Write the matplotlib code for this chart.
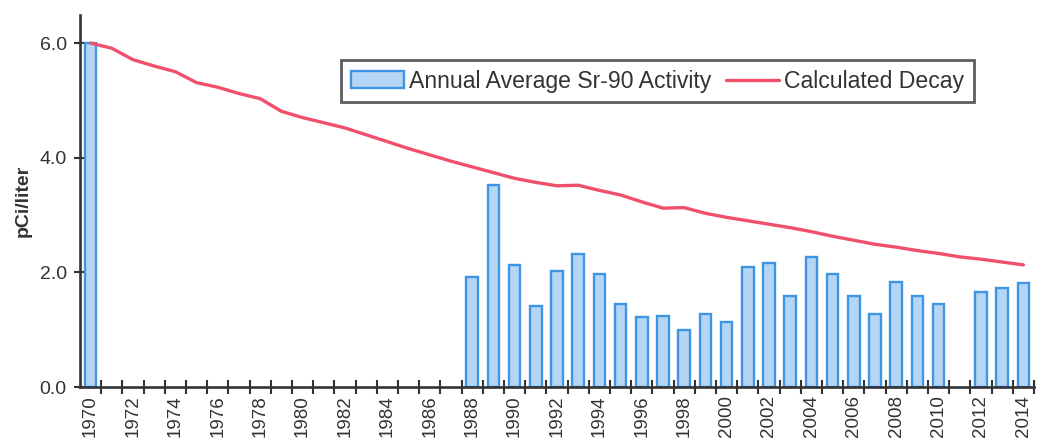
import numpy as np
import matplotlib
matplotlib.use("Agg")
import matplotlib.pyplot as plt
from matplotlib.ticker import FixedLocator, FormatStrFormatter

years = list(range(1970, 2015))

sr90_activity = [6.0] + [np.nan] * 17 + [
    1.92, 3.52, 2.12, 1.42, 2.02, 2.32, 1.97, 1.45, 1.22, 1.24, 0.99, 1.27, 1.13,
    2.09, 2.16, 1.58, 2.26, 1.98, 1.59, 1.27, 1.83, 1.58, 1.45, np.nan, 1.65, 1.73, 1.82]

calculated_decay = [
    6.00, 5.91, 5.71, 5.60, 5.50, 5.31, 5.23, 5.12, 5.03, 4.81,
    4.70, 4.61, 4.52, 4.40, 4.28, 4.16, 4.05, 3.94, 3.84, 3.74,
    3.64, 3.57, 3.51, 3.52, 3.43, 3.35, 3.23, 3.12, 3.13, 3.03,
    2.96, 2.90, 2.84, 2.78, 2.71, 2.63, 2.56, 2.49, 2.44, 2.38,
    2.33, 2.27, 2.23, 2.18, 2.13]

y_ticks = [0.0, 2.0, 4.0, 6.0]
x_tick_labels = [str(y) for y in years[::2]]

label_bar = "Annual Average Sr-90 Activity"
label_line = "Calculated Decay"
y_label = "pCi/liter"

regular = ["Liberation Sans", "DejaVu Sans"]

W, H = 1038, 442
fig = plt.figure(figsize=(W / 100, H / 100), dpi=100)
ax = fig.add_axes([80 / W, 55 / H, 954 / W, 372 / H])

x = np.arange(len(years))
bars = ax.bar(x, sr90_activity, width=0.55, color="#b5d5f4", edgecolor="#3d95e6",
              linewidth=1.7, label=label_bar, zorder=2)
line, = ax.plot(x, calculated_decay, color="#f0506c", linewidth=2.4,
                solid_joinstyle="round", solid_capstyle="round", label=label_line, zorder=3)

ax.set_xlim(-0.5, len(years) - 0.5)
ax.set_ylim(0, 6.49)

axis_color = "#333333"
for s in ["top", "right"]:
    ax.spines[s].set_visible(False)
for s in ["left", "bottom"]:
    ax.spines[s].set_color(axis_color)
    ax.spines[s].set_linewidth(1.9)
    ax.spines[s].set_zorder(4)

ax.yaxis.set_major_locator(FixedLocator(y_ticks))
ax.yaxis.set_major_formatter(FormatStrFormatter("%.1f"))
ax.tick_params(axis="y", direction="inout", length=9, width=1.5, color=axis_color,
               pad=5, labelsize=14, labelcolor="#333333")
for t in ax.get_yticklabels():
    t.set_family(regular)

ax.set_xticks(x[::2])
ax.set_xticklabels(x_tick_labels, rotation=90, family=regular, fontsize=13.5, color="#333333")
ax.set_xticks(np.arange(0.5, len(years) - 0.5 + 0.01, 1.0), minor=True)
ax.tick_params(axis="x", which="major", length=0, pad=6)
ax.tick_params(axis="x", which="minor", direction="inout", length=10, width=1.5, color=axis_color)

ax.set_ylabel(y_label, fontsize=14, fontweight="bold", family=regular, color="#333333", labelpad=6)

leg = ax.legend(handles=[bars, line], labels=[label_bar, label_line], ncol=2,
                loc="upper left", bbox_to_anchor=(341 / W, 1 - 60 / H),
                bbox_transform=fig.transFigure, frameon=True, fancybox=False,
                prop={"family": regular, "size": 16.6}, handlelength=2.3, handleheight=0.72,
                handletextpad=0.25, columnspacing=0.6, borderpad=0.42, borderaxespad=0)
leg.get_frame().set_edgecolor("#333333")
leg.get_frame().set_linewidth(2.0)
for t in leg.get_texts():
    t.set_color("#333333")

fig.savefig("out.png", dpi=100, facecolor="white")
